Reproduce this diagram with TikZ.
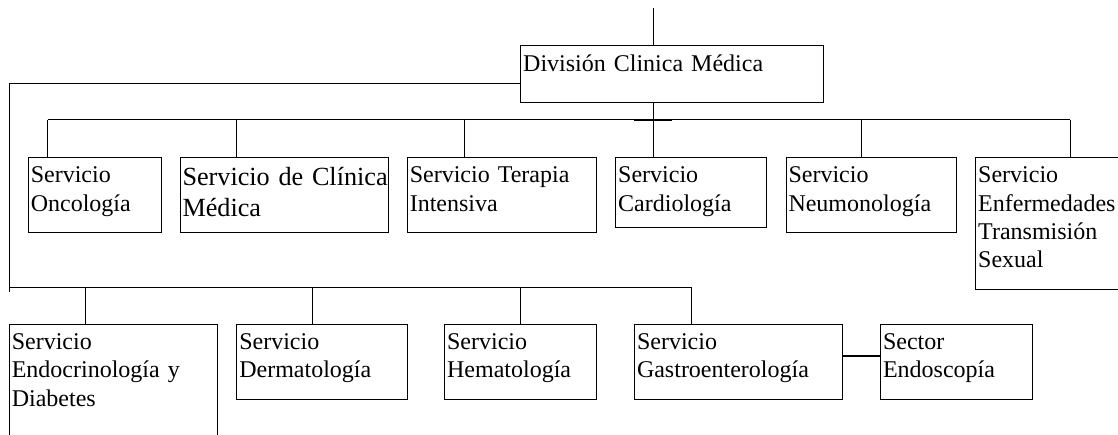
\documentclass[tikz,border=0pt]{standalone}
\usepackage{fontspec}
\setmainfont{Liberation Serif}
\begin{document}
\begin{tikzpicture}[x=1pt,y=-1pt,
  box/.style={draw, line width=1pt, anchor=north west, inner sep=0pt, outer sep=0pt},
  lbl/.style={anchor=base west, inner sep=0pt, outer sep=0pt, text width=300pt, align=left, font=\fontsize{24}{28.3}\selectfont},
  big/.style={font=\fontsize{26.2}{30.7}\selectfont},
  ln/.style={line width=1pt},
  bold/.style={line width=1.8pt},
  semibold/.style={line width=1.6pt}]
\useasboundingbox (0,0) rectangle (1118,435);

% boxes
\node[box, minimum width=302.6pt, minimum height=56.7pt] (div) at (520.7,46) {};
\node[lbl] (div-t) at (523.2,71.5) {División Clinica Médica};

\node[box, minimum width=132.7pt, minimum height=75.4pt] (onc) at (28.3,157.3) {};
\node[lbl] (onc-t) at (30.8,182.8) {Servicio\\Oncología};
\node[box, minimum width=208.3pt, minimum height=75.4pt] (cli) at (180,157.3) {};
\node[lbl,big] (cli-t) at (182.5,186) {Servicio de Clínica\\Médica};
\node[box, minimum width=189pt, minimum height=75.4pt] (ter) at (407.3,157.3) {};
\node[lbl] (ter-t) at (409.8,182.8) {Servicio Terapia\\Intensiva};
\node[box, minimum width=151pt, minimum height=70pt] (car) at (615.7,157.3) {};
\node[lbl] (car-t) at (618.2,182.8) {Servicio\\Cardiología};
\node[box, minimum width=170.5pt, minimum height=75.4pt] (neu) at (786,157.3) {};
\node[lbl] (neu-t) at (788.5,182.8) {Servicio\\Neumonología};
\node[box, minimum width=170pt, minimum height=132.7pt] (ets) at (975.7,157.3) {};
\node[lbl] (ets-t) at (978.2,182.8) {Servicio\\Enfermedades\\Transmisión\\Sexual};

\node[box, minimum width=207.9pt, minimum height=140pt] (endo) at (9.3,324) {};
\node[lbl] (endo-t) at (11.8,349.5) {Servicio\\Endocrinología y\\Diabetes};
\node[box, minimum width=170.2pt, minimum height=75.3pt] (der) at (236.8,324) {};
\node[lbl] (der-t) at (239.3,349.5) {Servicio\\Dermatología};
\node[box, minimum width=151.8pt, minimum height=75.3pt] (hem) at (444.6,324) {};
\node[lbl] (hem-t) at (447.1,349.5) {Servicio\\Hematología};
\node[box, minimum width=208.3pt, minimum height=75.3pt] (gas) at (634.5,324) {};
\node[lbl] (gas-t) at (637,349.5) {Servicio\\Gastroenterología};
\node[box, minimum width=151.5pt, minimum height=75.3pt] (endos) at (880.5,324) {};
\node[lbl] (endos-t) at (883,349.5) {Sector\\Endoscopía};

% connectors
\coordinate (top) at (653.3,8);
\draw[ln] (top) -- (top |- div.north);
\draw[ln] (top |- div.south) -- (top |- car.north);

\coordinate (b1l) at (47.7,120);
\coordinate (b1r) at (1070,120);
\draw[ln] (b1l) -- (b1r);
\coordinate (tk1) at (634,120);
\coordinate (tk2) at (671.7,120);
\draw[semibold] (tk1) -- (tk2);
\foreach \n/\x in {onc/47.7, cli/236.7, ter/464, neu/861.7, ets/1070}{
  \coordinate (d) at (\x,120);
  \draw[ln] (d) -- (d |- \n.north);
}

\coordinate (lc) at (9.3,83.3);
\coordinate (lb) at (9.3,291.7);
\draw[ln] (lc -| div.west) -- (lc) -- (lb);

\coordinate (b2l) at (8.8,287.5);
\coordinate (b2r) at (691,287.5);
\draw[ln] (b2l) -- (b2r);
\foreach \n/\x in {endo/85.7, der/312.8, hem/520.7, gas/691}{
  \coordinate (d) at (\x,287.5);
  \draw[ln] (d) -- (d |- \n.north);
}

\coordinate (ge) at (0,355.7);
\draw[bold] (ge -| gas.east) -- (ge -| endos.west);
\end{tikzpicture}
\end{document}
